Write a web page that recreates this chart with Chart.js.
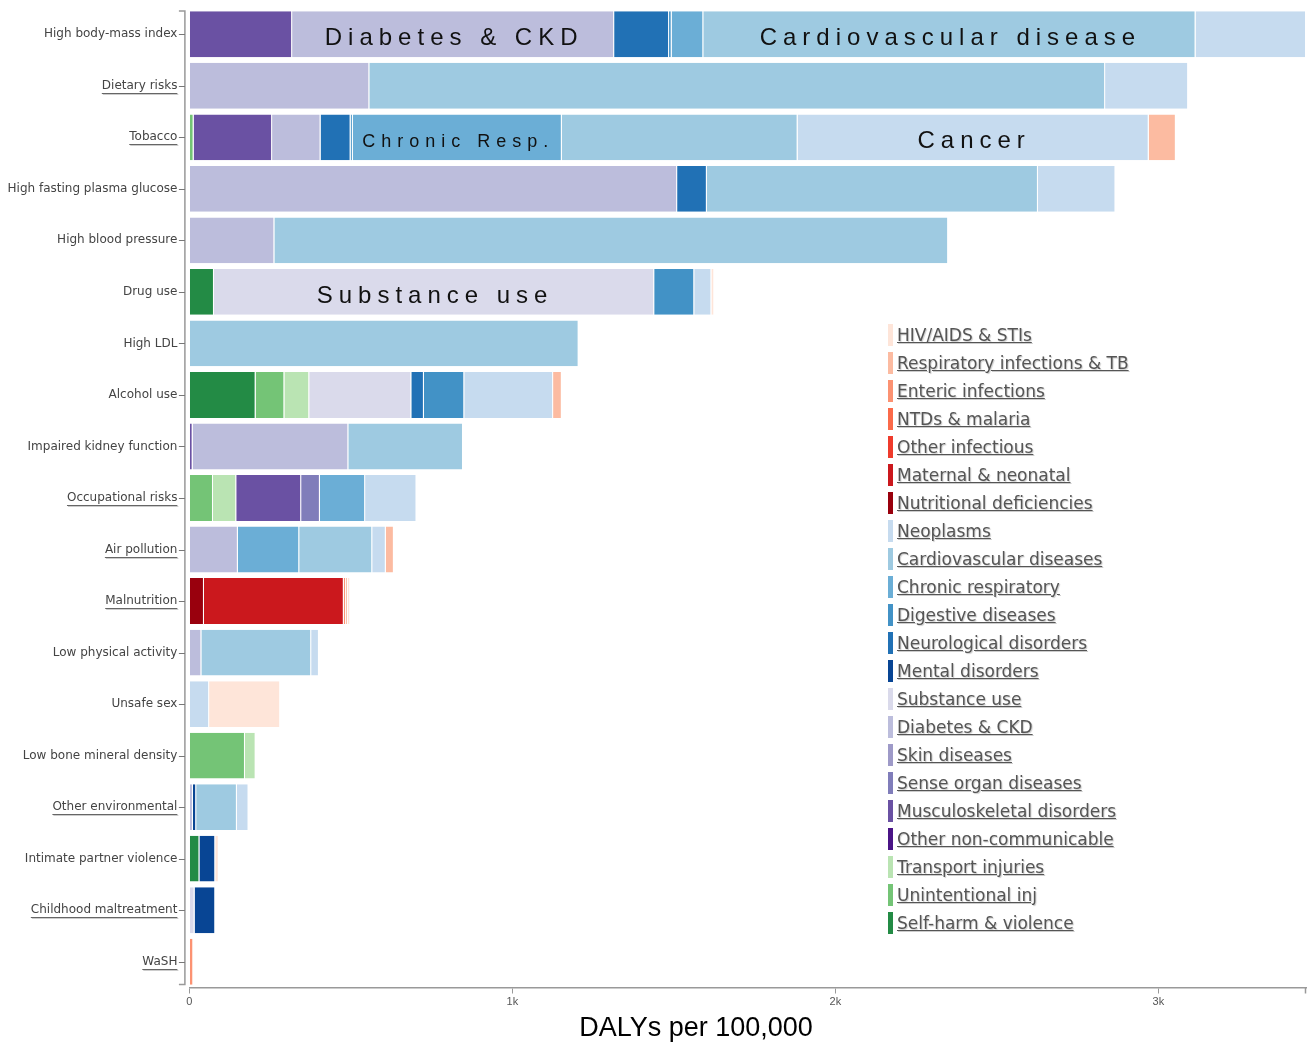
<!DOCTYPE html>
<html>
<head>
<meta charset="utf-8">
<script src="https://cdn.jsdelivr.net/npm/chart.js@4.4.1/dist/chart.umd.min.js"></script>
<style>
  body { margin: 0; background: #fff; }
  #wrap { position: relative; width: 1310px; height: 1042px; }
  #legend { position: absolute; left: 888px; top: 321px; font-family: 'DejaVu Sans', Verdana, sans-serif; font-size: 17px; }
  .item { display: flex; align-items: center; height: 28px; }
  .sw { width: 5px; height: 22px; margin-right: 4px; }
  .lbl { color: #555; text-decoration: underline; text-shadow: 1px 1px 1px #ccc; white-space: nowrap; }
</style>
</head>
<body>
<div id="wrap">
  <canvas id="myChart" width="1310" height="1042"></canvas>
  <div id="legend"></div>
</div>
<script>
// risk factors, top to bottom
const riskFactors = ['High body-mass index', 'Dietary risks', 'Tobacco', 'High fasting plasma glucose',
  'High blood pressure', 'Drug use', 'High LDL', 'Alcohol use', 'Impaired kidney function',
  'Occupational risks', 'Air pollution', 'Malnutrition', 'Low physical activity', 'Unsafe sex',
  'Low bone mineral density', 'Other environmental', 'Intimate partner violence',
  'Childhood maltreatment', 'WaSH'];
const linkedFactors = ['Dietary risks', 'Tobacco', 'Occupational risks', 'Air pollution', 'Malnutrition',
  'Other environmental', 'Childhood maltreatment', 'WaSH'];

// causes in legend order
const causes = ['HIV/AIDS & STIs', 'Respiratory infections & TB', 'Enteric infections', 'NTDs & malaria',
  'Other infectious', 'Maternal & neonatal', 'Nutritional deficiencies', 'Neoplasms',
  'Cardiovascular diseases', 'Chronic respiratory', 'Digestive diseases', 'Neurological disorders',
  'Mental disorders', 'Substance use', 'Diabetes & CKD', 'Skin diseases', 'Sense organ diseases',
  'Musculoskeletal disorders', 'Other non-communicable', 'Transport injuries', 'Unintentional inj',
  'Self-harm & violence'];
const causeColors = ['#fee5d9', '#fcbba1', '#fc9272', '#fb6a4a', '#ef3b2c', '#cb181d', '#99000d',
  '#c6dbef', '#9ecae1', '#6baed6', '#4292c6', '#2171b5', '#084594',
  '#dadaeb', '#bcbddc', '#9e9ac8', '#807dba', '#6a51a3', '#4a1486',
  '#bae4b3', '#74c476', '#238b45'];

// DALYs per 100,000, one value per risk factor (same order as riskFactors)
const hivAids         = [0, 0, 0, 0, 0, 9, 0, 0, 0, 0, 0, 7, 0, 220, 0, 0, 11, 0, 0];
const respInfections  = [0, 0, 84, 0, 0, 0, 0, 27, 0, 0, 25, 6, 0, 0, 0, 0, 0, 0, 0];
const entericInf      = [0, 0, 0, 0, 0, 0, 0, 0, 0, 0, 0, 7, 0, 0, 0, 0, 0, 0, 12];
const ntdsMalaria     = [0, 0, 0, 0, 0, 0, 0, 0, 0, 0, 0, 0, 0, 0, 0, 0, 0, 0, 0];
const otherInfectious = [0, 0, 0, 0, 0, 0, 0, 0, 0, 0, 0, 0, 0, 0, 0, 0, 0, 0, 0];
const maternalNeo     = [0, 0, 0, 0, 0, 0, 0, 0, 0, 0, 0, 433, 0, 0, 0, 0, 0, 0, 0];
const nutritionalDef  = [0, 0, 0, 0, 0, 0, 0, 0, 0, 0, 0, 45, 0, 0, 0, 0, 0, 0, 0];
const neoplasms       = [342, 257, 1087, 240, 0, 53, 0, 275, 0, 159, 42, 0, 24, 61, 0, 36, 0, 0, 0];
const cardiovascular  = [1524, 2278, 730, 1025, 2086, 0, 1205, 0, 355, 0, 226, 0, 340, 0, 0, 126, 0, 0, 0];
const chronicResp     = [98, 0, 647, 0, 0, 0, 0, 0, 0, 140, 190, 0, 0, 0, 0, 0, 0, 0, 0];
const digestive       = [8, 0, 7, 0, 0, 124, 0, 125, 0, 0, 0, 0, 0, 0, 0, 0, 0, 0, 0];
const neurological    = [170, 0, 93, 92, 0, 0, 0, 39, 0, 0, 0, 0, 0, 0, 0, 0, 0, 0, 0];
const mentalDis       = [0, 0, 0, 0, 0, 0, 0, 0, 0, 0, 0, 0, 0, 0, 0, 10, 49, 64, 0];
const substanceUse    = [0, 0, 0, 0, 0, 1363, 0, 316, 0, 0, 0, 0, 0, 0, 0, 0, 0, 16, 0];
const diabetesCkd     = [997, 557, 150, 1510, 263, 0, 0, 0, 482, 0, 150, 0, 37, 0, 0, 11, 0, 0, 0];
const skinDis         = [0, 0, 0, 0, 0, 0, 0, 0, 0, 0, 0, 0, 0, 0, 0, 0, 0, 0, 0];
const senseOrgan      = [0, 0, 0, 0, 0, 0, 0, 0, 0, 58, 0, 0, 0, 0, 0, 0, 0, 0, 0];
const musculoskeletal = [318, 0, 243, 0, 0, 0, 0, 0, 10, 201, 0, 0, 0, 0, 0, 0, 0, 0, 0];
const otherNcd        = [0, 0, 0, 0, 0, 0, 0, 0, 0, 0, 0, 0, 0, 0, 0, 0, 0, 0, 0];
const transportInj    = [0, 0, 0, 0, 0, 0, 0, 77, 0, 72, 0, 0, 0, 0, 33, 0, 0, 0, 0];
const unintentional   = [0, 0, 13, 0, 0, 0, 0, 89, 0, 73, 0, 0, 0, 0, 172, 0, 0, 0, 0];
const selfHarm        = [0, 0, 0, 0, 0, 76, 0, 205, 0, 0, 0, 0, 0, 0, 0, 0, 31, 0, 0];

const causeValues = [hivAids, respInfections, entericInf, ntdsMalaria, otherInfectious, maternalNeo,
  nutritionalDef, neoplasms, cardiovascular, chronicResp, digestive, neurological, mentalDis,
  substanceUse, diabetesCkd, skinDis, senseOrgan, musculoskeletal, otherNcd, transportInj,
  unintentional, selfHarm];

const xTicks = [0, 1000, 2000, 3000];
const xTickLabels = ['0', '1k', '2k', '3k'];

// text written over some segments
const segmentLabels = [
  { cause: 'Diabetes & CKD', factor: 'High body-mass index', text: 'Diabetes & CKD', size: 24 },
  { cause: 'Cardiovascular diseases', factor: 'High body-mass index', text: 'Cardiovascular disease', size: 24 },
  { cause: 'Chronic respiratory', factor: 'Tobacco', text: 'Chronic Resp.', size: 18 },
  { cause: 'Neoplasms', factor: 'Tobacco', text: 'Cancer', size: 24 },
  { cause: 'Substance use', factor: 'Drug use', text: 'Substance use', size: 24 }
];

// stacking runs from the bottom of the legend up
const datasets = causes.map((c, i) => ({
  label: c,
  data: causeValues[i],
  backgroundColor: causeColors[i],
  borderColor: '#fff',
  borderWidth: { top: 0, right: 1, bottom: 0, left: 0 },
  borderSkipped: false,
  barPercentage: 0.89,
  categoryPercentage: 1
})).reverse();

const totals = riskFactors.map((f, j) => causeValues.reduce((s, arr) => s + arr[j], 0));
const xMax = Math.max(...totals);

const tickFont = '12px "DejaVu Sans", Verdana, sans-serif';

const decorations = {
  id: 'decorations',
  afterDraw(chart) {
    const { ctx, chartArea: a, scales: { x, y } } = chart;
    ctx.save();
    // y domain line with end caps and ticks
    const ax = a.left - 4.5;
    ctx.strokeStyle = '#999';
    ctx.lineWidth = 1.5;
    ctx.beginPath();
    ctx.moveTo(ax - 6, a.top + 2.5);
    ctx.lineTo(ax, a.top + 2.5);
    ctx.lineTo(ax, a.bottom - 3);
    ctx.lineTo(ax - 6, a.bottom - 3);
    ctx.stroke();
    ctx.lineWidth = 1;
    ctx.strokeStyle = '#777';
    riskFactors.forEach((f, i) => {
      const py = Math.round(y.getPixelForTick(i)) + 0.5;
      ctx.beginPath();
      ctx.moveTo(ax - 6, py);
      ctx.lineTo(ax, py);
      ctx.stroke();
    });
    // x axis end cap
    ctx.strokeStyle = '#999';
    ctx.lineWidth = 1.5;
    ctx.beginPath();
    ctx.moveTo(a.right - 0.5, a.bottom);
    ctx.lineTo(a.right - 0.5, a.bottom + 6);
    ctx.stroke();

    // underline the linked risk factor labels
    ctx.font = tickFont;
    const right = a.left - 12;
    riskFactors.forEach((f, i) => {
      if (!linkedFactors.includes(f)) return;
      const w = ctx.measureText(f).width;
      const py = Math.round(y.getPixelForTick(i)) + 7.5;
      ctx.lineWidth = 1;
      ctx.strokeStyle = '#666';
      ctx.beginPath(); ctx.moveTo(right - w, py); ctx.lineTo(right, py); ctx.stroke();
      ctx.strokeStyle = '#ccc';
      ctx.beginPath(); ctx.moveTo(right - w + 1, py + 1); ctx.lineTo(right + 1, py + 1); ctx.stroke();
    });

    // segment labels
    ctx.fillStyle = '#111';
    ctx.textAlign = 'center';
    ctx.textBaseline = 'alphabetic';
    segmentLabels.forEach(l => {
      const di = chart.data.datasets.findIndex(d => d.label === l.cause);
      const el = chart.getDatasetMeta(di).data[riskFactors.indexOf(l.factor)];
      ctx.font = l.size + 'px "Liberation Sans", Arial, sans-serif';
      ctx.letterSpacing = '6px';
      ctx.fillText(l.text, (el.base + el.x) / 2 + 1, el.y + (l.size > 20 ? 11 : 10));
    });
    ctx.letterSpacing = '0px';

    // axis title
    ctx.font = '27px "Liberation Sans", Arial, sans-serif';
    ctx.fillStyle = '#000';
    ctx.fillText('DALYs per 100,000', 696, 1036);
    ctx.restore();
  }
};

new Chart(document.getElementById('myChart'), {
  type: 'bar',
  data: { labels: riskFactors, datasets: datasets },
  options: {
    indexAxis: 'y',
    responsive: false,
    animation: false,
    devicePixelRatio: 1,
    layout: { padding: { top: 8.5, right: 4, left: 0, bottom: 0 } },
    plugins: { legend: { display: false }, tooltip: { enabled: false } },
    scales: {
      x: {
        stacked: true,
        min: 0,
        max: xMax,
        afterFit: s => { s.height = 54.5; s.paddingLeft = 0; s.paddingRight = 0; },
        afterBuildTicks: s => { s.ticks = xTicks.map(v => ({ value: v })); },
        ticks: {
          callback: v => xTickLabels[xTicks.indexOf(v)],
          font: { family: '"Liberation Sans", Arial, sans-serif', size: 11 },
          color: '#555',
          padding: 2,
          maxRotation: 0
        },
        grid: { drawOnChartArea: false, drawTicks: true, tickLength: 6, color: '#999', lineWidth: 1 },
        border: { display: true, color: '#999', width: 1.5 }
      },
      y: {
        stacked: true,
        afterFit: s => { s.width = 189.4; s.paddingTop = 0; s.paddingBottom = 0; },
        ticks: {
          autoSkip: false,
          font: { family: '"DejaVu Sans", Verdana, sans-serif', size: 12 },
          color: '#444',
          padding: 12
        },
        grid: { display: false, drawTicks: false },
        border: { display: false }
      }
    }
  },
  plugins: [decorations]
});

// legend
const legend = document.getElementById('legend');
causes.forEach((c, i) => {
  const item = document.createElement('div');
  item.className = 'item';
  item.innerHTML = '<div class="sw" style="background:' + causeColors[i] + '"></div><span class="lbl"></span>';
  item.querySelector('.lbl').textContent = c;
  legend.appendChild(item);
});
</script>
</body>
</html>
